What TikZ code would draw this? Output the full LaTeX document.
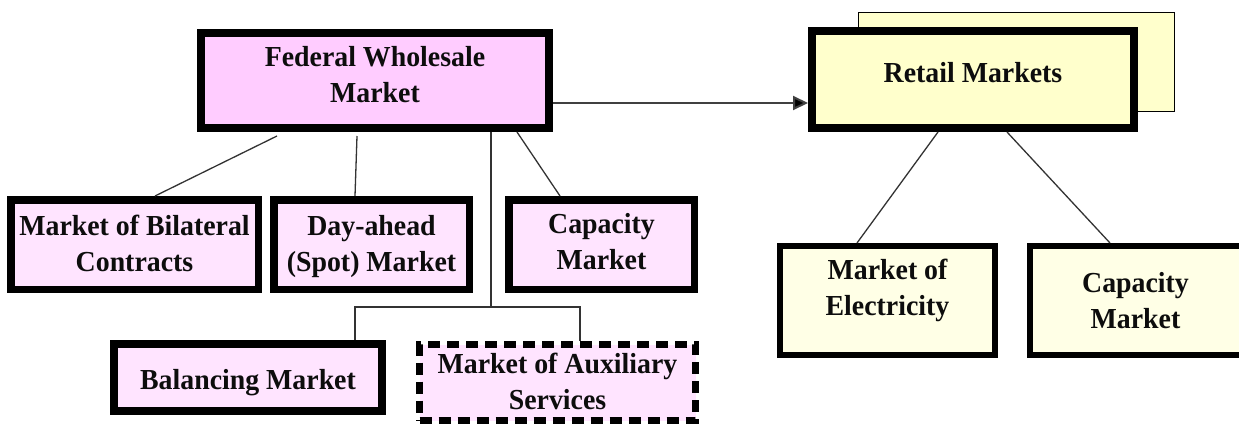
\documentclass[tikz,border=0pt]{standalone}
\usepackage{fontspec}
\setmainfont{Liberation Serif}[FakeStretch=0.96]
\usetikzlibrary{calc,arrows.meta}

\definecolor{pinkhead}{HTML}{FFCCFF}
\definecolor{pinkleaf}{HTML}{FFE4FF}
\definecolor{yellowhead}{HTML}{FFFFCC}
\definecolor{yellowleaf}{HTML}{FFFFE6}
\definecolor{wire}{HTML}{333333}

\newcommand{\stacklines}[1]{\begin{tabular}[t]{@{}c@{}}#1\end{tabular}}

\begin{document}
\begin{tikzpicture}[x=1pt,y=-1pt,
  box/.style={draw=black, line width=#1, inner sep=0pt, anchor=north west},
  label text/.style={anchor=base, inner sep=0pt, text=black!95,
    font=\fontsize{29pt}{36pt}\selectfont\bfseries},
  link/.style={draw=wire, line width=1.3pt},
  flow/.style={draw=black!75, line width=2pt,
    -{Triangle[length=15pt,width=14pt,fill=black]}}]

  % canvas
  \fill[white] (0,0) rectangle (1239,423);
  \useasboundingbox (0,0) rectangle (1239,423);

  % wholesale side
  \node[box=8pt, fill=pinkhead, minimum width=348pt, minimum height=95pt] (fwm) at (197,29) {};
  \node[box=7.5pt, fill=pinkleaf, minimum width=247.5pt, minimum height=89.5pt] (bil) at (7,196) {};
  \node[box=7.5pt, fill=pinkleaf, minimum width=195.5pt, minimum height=89.5pt] (day) at (270,196) {};
  \node[box=7.5pt, fill=pinkleaf, minimum width=185.5pt, minimum height=89.5pt] (capw) at (505,196) {};
  \node[box=8pt, fill=pinkleaf, minimum width=268pt, minimum height=67pt] (bal) at (110,340) {};
  \node[box=7pt, fill=pinkleaf, dash pattern=on 12pt off 7pt, minimum width=276pt, minimum height=76pt] (aux) at (416,341) {};

  % retail side
  \node[box=1.2pt, fill=yellowhead, minimum width=315.8pt, minimum height=98.8pt] (retailback) at (858,12) {};
  \node[box=8pt, fill=yellowhead, minimum width=322pt, minimum height=97pt] (retail) at (808,27) {};
  \node[box=6pt, fill=yellowleaf, minimum width=215pt, minimum height=109pt] (elec) at (777,243) {};
  \node[box=6pt, fill=yellowleaf, minimum width=212pt, minimum height=109pt] (capr) at (1027,243) {};

  % labels
  \node[label text] (fwm-t) at (375,66.5) {\stacklines{Federal Wholesale\\Market}};
  \node[label text] (bil-t) at (134.5,235) {\stacklines{Market of Bilateral\\Contracts}};
  \node[label text] (day-t) at (371.5,235) {\stacklines{Day-ahead\\(Spot) Market}};
  \node[label text] (capw-t) at (601.5,233.5) {\stacklines{Capacity\\Market}};
  \node[label text] (bal-t) at (248,389) {Balancing Market};
  \node[label text] (aux-t) at (557.5,373.5) {\stacklines{Market of Auxiliary\\Services}};
  \node[label text] (retail-t) at (973,82.5) {Retail Markets};
  \node[label text] (elec-t) at (887.5,279.5) {\stacklines{Market of\\Electricity}};
  \node[label text] (capr-t) at (1135.5,292.5) {\stacklines{Capacity\\Market}};

  % wholesale branches
  \draw[link] ($(fwm.south west)+(80,4)$) -- ($(bil.north west)+(148,0)$);
  \draw[link] ($(fwm.south west)+(160,4)$) -- ($(day.north west)+(85,0)$);
  \draw[link] ($(fwm.south west)+(320,0)$) -- ($(capw.north west)+(55,0)$);
  \coordinate (split) at ($(fwm.south west)+(294,175)$);
  \draw[link] ($(fwm.south west)+(294,0)$) -- (split);
  \draw[link] ($(bal.north west)+(245,0)$) |- (split) -| ($(aux.north west)+(164,0)$);

  % retail branches
  \draw[link] ($(retail.south west)+(130,0)$) -- ($(elec.north west)+(80,0)$);
  \draw[link] ($(retail.south west)+(199,0)$) -- ($(capr.north west)+(83,0)$);

  % wholesale to retail
  \draw[flow] ($(fwm.south east)+(0,-29)$) -- ($(retail.south west)+(0,-29)$);
\end{tikzpicture}
\end{document}
